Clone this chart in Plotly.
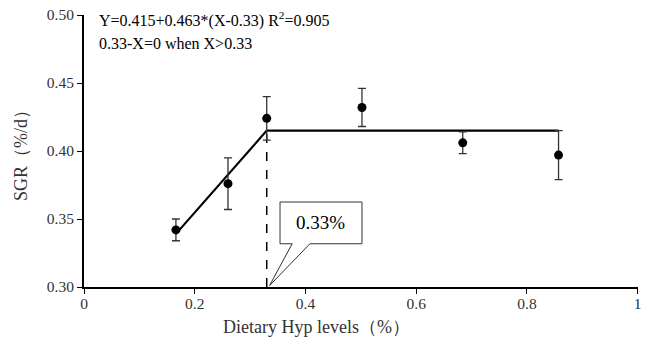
import plotly.graph_objects as go

hyp = [0.166, 0.26, 0.33, 0.502, 0.684, 0.857]
sgr = [0.342, 0.376, 0.424, 0.432, 0.406, 0.397]
sgr_err = [0.008, 0.019, 0.016, 0.014, 0.008, 0.018]

bp_x = 0.33
plateau = 0.415
slope = 0.463
fit_x = [hyp[0], bp_x, hyp[-1]]
fit_y = [plateau + slope * (x - bp_x) if x < bp_x else plateau for x in fit_x]

xticks = [0, 0.2, 0.4, 0.6, 0.8, 1]
xtick_text = ["0", "0.2", "0.4", "0.6", "0.8", "1"]
yticks = [0.30, 0.35, 0.40, 0.45, 0.50]
ytick_text = ["0.30", "0.35", "0.40", "0.45", "0.50"]

FONT = "Liberation Serif, Times New Roman, serif"

fig = go.Figure()
fig.add_trace(go.Scatter(x=fit_x, y=fit_y, mode="lines",
                         line=dict(color="black", width=2.2), showlegend=False))
fig.add_trace(go.Scatter(x=[bp_x, bp_x], y=[0.30, plateau], mode="lines",
                         line=dict(color="black", width=1.5, dash="dash"), showlegend=False))
fig.add_trace(go.Scatter(x=hyp, y=sgr, mode="markers",
                         marker=dict(color="black", size=9),
                         error_y=dict(type="data", array=sgr_err, color="#333333", thickness=1.3, width=4),
                         showlegend=False))

# callout box with pointer
box = dict(x0=0.354, x1=0.502, y0=0.3318, y1=0.3625)
path = (f"M {box['x0']},{box['y0']} L {box['x0']},{box['y1']} L {box['x1']},{box['y1']} "
        f"L {box['x1']},{box['y0']} L 0.408,{box['y0']} L {bp_x + 0.005},0.301 "
        f"L 0.376,{box['y0']} Z")
fig.add_shape(type="path", path=path, xref="x", yref="y",
              line=dict(color="#333333", width=1), fillcolor="white")
fig.add_annotation(x=(box['x0'] + box['x1']) / 2, y=(box['y0'] + box['y1']) / 2,
                   text="0.33%", showarrow=False, font=dict(family=FONT, size=19, color="black"))

fig.add_annotation(xref="paper", yref="paper", x=0.023, y=0.985, xanchor="left", yanchor="middle",
                   text="Y=0.415+0.463*(X-0.33) R<sup>2</sup>=0.905", showarrow=False,
                   font=dict(family=FONT, size=16, color="black"))
fig.add_annotation(xref="paper", yref="paper", x=0.023, y=0.897, xanchor="left", yanchor="middle",
                   text="0.33-X=0 when X>0.33", showarrow=False,
                   font=dict(family=FONT, size=16, color="black"))

# x-axis title (centred on the figure as in the reference)
fig.add_annotation(xref="paper", yref="paper", x=0.42, y=-0.147, xanchor="center", yanchor="middle",
                   text="Dietary Hyp levels（%）", showarrow=False,
                   font=dict(family=FONT, size=18, color="#333333"))

fig.update_layout(
    width=648, height=346,
    margin=dict(l=84, r=10, t=15, b=59, autoexpand=False),
    plot_bgcolor="white", paper_bgcolor="white",
    font=dict(family=FONT, size=15.5, color="#333333"),
    xaxis=dict(range=[0, 1.0005], tickvals=xticks, ticktext=xtick_text, showgrid=False, zeroline=False,
               showline=True, linecolor="black", linewidth=2, ticks="outside", ticklen=5,
               tickcolor="black", automargin=False, ticklabelstandoff=-4),
    yaxis=dict(range=[0.30, 0.50], tickvals=yticks, ticktext=ytick_text, showgrid=False, zeroline=False,
               showline=True, linecolor="black", linewidth=2, ticks="outside", ticklen=5,
               tickcolor="black", automargin=False,
               title=dict(text="SGR（%/d）", font=dict(size=18), standoff=14)),
)

fig.write_html("out.html", config={"displayModeBar": False},
               post_script="document.body.style.margin='0px';document.body.style.overflow='hidden';")
